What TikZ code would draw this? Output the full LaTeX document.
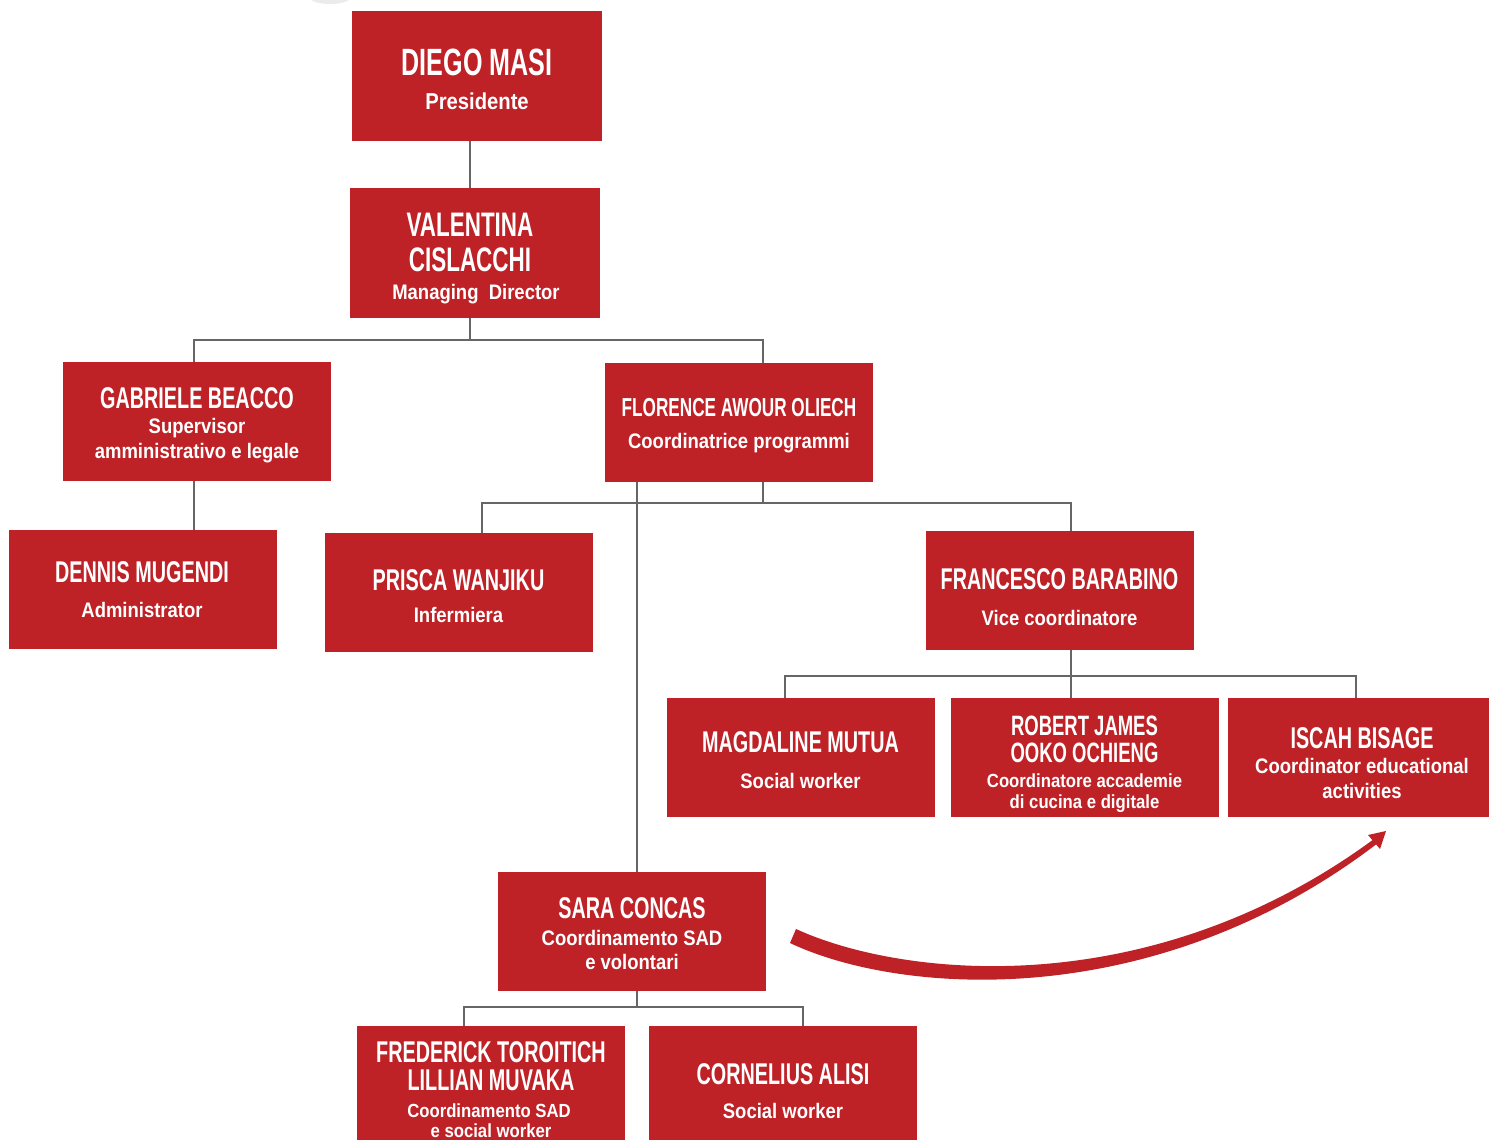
\documentclass[tikz,border=0pt]{standalone}
\usepackage{fontspec}
\newfontfamily\namefont{Liberation Sans}[FakeStretch=0.66]
\newfontfamily\subfont{Liberation Sans}[FakeStretch=0.88]
\definecolor{boxred}{RGB}{190,34,39}
\definecolor{linegrey}{RGB}{102,102,102}
\tikzset{
  pbox/.style={fill=boxred, draw=none, inner sep=0pt, rectangle},
  nm/.style={text=white, anchor=base, inner sep=0pt, font=\namefont\bfseries\fontsize{#1}{#1}\selectfont},
  nm/.default=30,
  sb/.style={text=white, anchor=base, inner sep=0pt, font=\subfont\bfseries\fontsize{#1}{#1}\selectfont},
  sb/.default=21,
  conn/.style={draw=linegrey, line width=2pt, line join=miter},
  arrowfill/.style={fill=boxred, draw=none}
}
\newcommand\orgbox[5]{\node[pbox, minimum width=#4pt, minimum height=#5pt] (#1) at (#2,#3) {};}
\begin{document}
\begin{tikzpicture}[x=1pt, y=-1pt]
\path[use as bounding box] (0,0) rectangle (1489,1140);
\clip (0,0) rectangle (1489,1140);
% faint grey fragment at the top edge
\fill[black!8] (330,-3) ellipse [x radius=21, y radius=7];

% boxes
\orgbox{diego}{477}{76}{250}{130}
\orgbox{valentina}{475}{253}{250}{130}
\orgbox{gabriele}{197}{421.5}{268}{119}
\orgbox{florence}{739}{422.5}{268}{119}
\orgbox{dennis}{143}{589.5}{268}{119}
\orgbox{prisca}{459}{592.5}{268}{119}
\orgbox{francesco}{1060}{590.5}{268}{119}
\orgbox{magdaline}{801}{757.5}{268}{119}
\orgbox{robert}{1085}{757.5}{268}{119}
\orgbox{iscah}{1358.5}{757.5}{261}{119}
\orgbox{sara}{632}{931.5}{268}{119}
\orgbox{frederick}{491}{1085.5}{268}{119}
\orgbox{cornelius}{783}{1085.5}{268}{119}

% texts
\node[nm=38] (diego-n) at (477,75) {DIEGO MASI};
\node[sb=23] (diego-s) at (477,110) {Presidente};

\node[nm=34] (val-n1) at (470,236) {VALENTINA};
\node[nm=34] (val-n2) at (470,271) {CISLACCHI};
\node[sb] (val-s) at (476,299) {Managing\ \ Director};

\node[nm] (gab-n) at (197,408) {GABRIELE BEACCO};
\node[sb] (gab-s1) at (197,433) {Supervisor};
\node[sb] (gab-s2) at (197,458) {amministrativo e legale};

\node[nm=26] (flo-n) at (739,416) {FLORENCE AWOUR OLIECH};
\node[sb] (flo-s) at (739,448) {Coordinatrice programmi};

\node[nm] (den-n) at (142,582) {DENNIS MUGENDI};
\node[sb] (den-s) at (142,617) {Administrator};

\node[nm] (pri-n) at (458.5,590) {PRISCA WANJIKU};
\node[sb] (pri-s) at (458.5,622) {Infermiera};

\node[nm] (fra-n) at (1059.5,589) {FRANCESCO BARABINO};
\node[sb] (fra-s) at (1059.5,625) {Vice coordinatore};

\node[nm] (mag-n) at (800.5,752) {MAGDALINE MUTUA};
\node[sb] (mag-s) at (800.5,788) {Social worker};

\node[nm=28] (rob-n1) at (1084.5,735) {ROBERT JAMES};
\node[nm=28] (rob-n2) at (1084.5,762) {OOKO OCHIENG};
\node[sb=19] (rob-s1) at (1084.5,787) {Coordinatore accademie};
\node[sb=19] (rob-s2) at (1084.5,808) {di cucina e digitale};

\node[nm] (isc-n) at (1362,748) {ISCAH BISAGE};
\node[sb] (isc-s1) at (1362,773) {Coordinator educational};
\node[sb] (isc-s2) at (1362,798) {activities};

\node[nm] (sar-n) at (632,918) {SARA CONCAS};
\node[sb] (sar-s1) at (632,945) {Coordinamento SAD};
\node[sb] (sar-s2) at (632,969) {e volontari};

\node[nm] (fre-n1) at (491,1062) {FREDERICK TOROITICH};
\node[nm] (fre-n2) at (491,1090) {LILLIAN MUVAKA};
\node[sb=19] (fre-s1) at (489,1117) {Coordinamento SAD};
\node[sb=19] (fre-s2) at (491,1137) {e social worker};

\node[nm] (cor-n) at (783,1084) {CORNELIUS ALISI};
\node[sb] (cor-s) at (783,1118) {Social worker};

% bus coordinates
\coordinate (vL) at (194,340);
\coordinate (vM) at (470,340);
\coordinate (vR) at (763,340);
\coordinate (fL) at (482,503);
\coordinate (fM) at (763,503);
\coordinate (fR) at (1071,503);
\coordinate (bL) at (785,676);
\coordinate (bM) at (1071,676);
\coordinate (bR) at (1356,676);
\coordinate (sL) at (464,1007);
\coordinate (sM) at (637,1007);
\coordinate (sR) at (803,1007);

% connectors
\draw[conn] (diego.south -| 470,0) -- (valentina.north -| 470,0);
\draw[conn] (valentina.south -| vM) -- (vM);
\draw[conn] (gabriele.north -| vL) -- (vL) -- (vR) -- (florence.north -| vR);
\draw[conn] (gabriele.south -| vL) -- (dennis.north -| vL);
\draw[conn] (florence.south -| fM) -- (fM);
\draw[conn] (prisca.north -| fL) -- (fL) -- (fR) -- (francesco.north -| fR);
\draw[conn] (florence.south -| sM) -- (sara.north -| sM);
\draw[conn] (francesco.south -| bM) -- (bM);
\draw[conn] (magdaline.north -| bL) -- (bL) -- (bR) -- (iscah.north -| bR);
\draw[conn] (bM) -- (robert.north -| bM);
\draw[conn] (sara.south -| sM) -- (sM);
\draw[conn] (frederick.north -| sL) -- (sL) -- (sR) -- (cornelius.north -| sR);

% curved tapered arrow
\fill[arrowfill] (796,929) .. controls (903,978) and (1150,1004) .. (1374,839)
  -- (1378,843) .. controls (1152,1016) and (897,994) .. (790,943) -- cycle;
\fill[arrowfill] (1386,831) -- (1368,835) -- (1380,849) -- cycle;
\end{tikzpicture}
\end{document}
